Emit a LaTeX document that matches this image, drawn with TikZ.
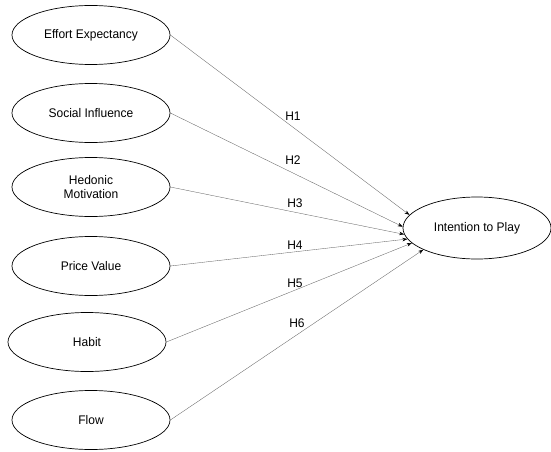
\documentclass[tikz,border=0pt]{standalone}
\usepackage{fontspec}
\setmainfont{Liberation Sans}[FakeStretch=0.96]
\usetikzlibrary{shapes.geometric,arrows.meta}
\begin{document}
\begin{tikzpicture}[x=1pt,y=-1pt,
  cons/.style={ellipse,draw=black,line width=0.7pt,minimum width=158pt,minimum height=59pt,inner sep=0pt,align=center,font=\fontsize{12.5}{14.5}\selectfont},
  arr/.style={draw=gray!80!black,line width=0.35pt,-{Stealth[length=5pt,width=3.5pt,black]}},
  lbl/.style={font=\fontsize{12.5}{14.5}\selectfont,inner sep=0pt}]
\useasboundingbox (0,0) rectangle (551,452);
\node[cons] (ee) at (91,35) {Effort Expectancy};
\node[cons] (si) at (91,113) {Social Influence};
\node[cons] (hm) at (91,187) {Hedonic\\Motivation};
\node[cons] (pv) at (91,266) {Price Value};
\node[cons] (hb) at (87,342) {Habit};
\node[cons] (fl) at (91,420) {Flow};
\node[cons,minimum width=148pt,minimum height=62pt] (ip) at (477,228) {Intention to Play};
\draw[arr] (ee.east) -- (ip.169);
\draw[arr] (si.east) -- (ip.179);
\draw[arr] (hm.east) -- (ip.185);
\draw[arr] (pv.east) -- (ip.189);
\draw[arr] (hb.east) -- (ip.193);
\draw[arr] (fl.east) -- (ip.202);
\node[lbl] (h1) at (293,116) {H1};
\node[lbl] (h2) at (293,160) {H2};
\node[lbl] (h3) at (295,203) {H3};
\node[lbl] (h4) at (295,245) {H4};
\node[lbl] (h5) at (295,283) {H5};
\node[lbl] (h6) at (297,323) {H6};
\end{tikzpicture}
\end{document}
